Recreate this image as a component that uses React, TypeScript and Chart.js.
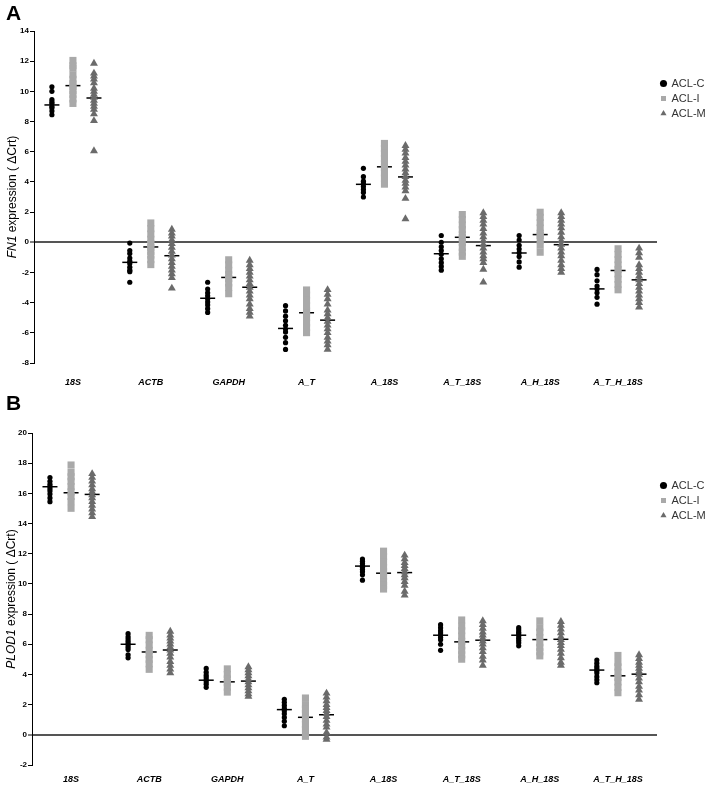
import React, { useEffect, useRef } from 'react';
import { Chart, registerables } from 'chart.js';
Chart.register(...registerables);

const FONT = "'Liberation Sans', Arial, sans-serif";

const categories = ['18S', 'ACTB', 'GAPDH', 'A_T', 'A_18S', 'A_T_18S', 'A_H_18S', 'A_T_H_18S'];
const groupNames = ['ACL-C', 'ACL-I', 'ACL-M'];

// ---------- Panel A: FN1 ----------
const fn1C = [
  [10.3, 10.0, 9.45, 9.3, 9.2, 9.0, 8.9, 8.7, 8.45],
  [-0.05, -0.55, -0.75, -1.05, -1.25, -1.4, -1.65, -1.85, -1.95, -2.65],
  [-2.65, -3.1, -3.35, -3.55, -3.75, -3.95, -4.15, -4.4, -4.65],
  [-4.2, -4.55, -4.9, -5.2, -5.5, -5.75, -5.95, -6.3, -6.65, -7.1],
  [4.9, 4.35, 4.05, 3.9, 3.7, 3.5, 3.3, 3.0],
  [0.45, 0.0, -0.3, -0.55, -0.8, -1.1, -1.35, -1.6, -1.85],
  [0.45, 0.15, -0.2, -0.45, -0.7, -0.95, -1.3, -1.65],
  [-1.8, -2.15, -2.55, -2.9, -3.1, -3.35, -3.65, -4.1],
];
const fn1I = [
  [12.05, 11.7, 11.55, 11.1, 10.8, 10.5, 10.3, 10.05, 9.8, 9.5, 9.2],
  [1.28, 0.9, 0.55, 0.2, -0.1, -0.35, -0.6, -0.85, -1.15, -1.48],
  [-1.16, -1.5, -1.85, -2.15, -2.4, -2.7, -3.0, -3.41],
  [-3.16, -3.5, -3.85, -4.2, -4.55, -4.7, -5.0, -5.35, -5.65, -5.99],
  [6.55, 6.2, 5.9, 5.55, 5.2, 4.95, 4.6, 4.25, 3.85],
  [1.84, 1.5, 1.15, 0.85, 0.5, 0.3, 0.0, -0.35, -0.65, -0.93],
  [1.99, 1.65, 1.3, 0.95, 0.6, 0.45, 0.15, -0.2, -0.66],
  [-0.43, -0.8, -1.15, -1.5, -1.8, -2.1, -2.45, -2.8, -3.15],
];
const fn1M = [
  [11.85, 11.2, 11.0, 10.8, 10.55, 10.2, 10.0, 9.8, 9.6, 9.4, 9.2, 9.0, 8.8, 8.5, 8.05, 6.05],
  [0.85, 0.6, 0.4, 0.15, -0.1, -0.35, -0.6, -0.85, -1.1, -1.35, -1.6, -1.85, -2.1, -2.35, -3.05],
  [-1.2, -1.5, -1.75, -2.0, -2.25, -2.5, -2.75, -3.0, -3.25, -3.5, -3.75, -4.1, -4.4, -4.65, -4.9],
  [-3.15, -3.45, -3.75, -4.1, -4.5, -4.75, -5.0, -5.25, -5.5, -5.75, -6.0, -6.3, -6.55, -6.8, -7.1],
  [6.4, 6.15, 5.9, 5.6, 5.35, 5.1, 4.85, 4.6, 4.35, 4.1, 3.9, 3.65, 3.4, 2.9, 1.55],
  [1.95, 1.7, 1.45, 1.2, 0.9, 0.6, 0.35, 0.1, -0.15, -0.4, -0.65, -0.9, -1.1, -1.35, -1.8, -2.65],
  [1.95, 1.7, 1.45, 1.2, 0.95, 0.65, 0.35, 0.1, -0.15, -0.4, -0.65, -0.9, -1.2, -1.5, -1.75, -2.0],
  [-0.4, -0.7, -1.0, -1.5, -1.75, -2.0, -2.25, -2.5, -2.75, -3.0, -3.25, -3.5, -3.75, -4.0, -4.3],
];
const fn1MeanC = [9.1, -1.33, -3.71, -5.71, 3.84, -0.76, -0.71, -3.09];
const fn1MeanI = [10.38, -0.31, -2.33, -4.67, 5.0, 0.33, 0.51, -1.87];
const fn1MeanM = [9.56, -0.89, -2.98, -5.16, 4.33, -0.22, -0.16, -2.49];

// ---------- Panel B: PLOD1 ----------
const plodC = [
  [17.05, 16.8, 16.6, 16.45, 16.3, 16.15, 15.95, 15.7, 15.45],
  [6.7, 6.5, 6.35, 6.2, 6.05, 5.95, 5.8, 5.65, 5.3, 5.1],
  [4.4, 4.15, 3.95, 3.8, 3.65, 3.5, 3.35, 3.15],
  [2.35, 2.15, 1.95, 1.75, 1.6, 1.4, 1.15, 0.9, 0.6],
  [11.65, 11.5, 11.35, 11.2, 11.1, 10.95, 10.8, 10.6, 10.25],
  [7.3, 7.1, 6.9, 6.75, 6.6, 6.45, 6.3, 6.0, 5.6],
  [7.1, 6.95, 6.8, 6.7, 6.55, 6.4, 6.25, 6.1, 5.9],
  [4.95, 4.75, 4.55, 4.4, 4.25, 4.1, 3.85, 3.65, 3.45],
];
const plodI = [
  [17.88, 17.4, 17.1, 16.8, 16.45, 16.1, 15.8, 15.45, 15.01],
  [6.59, 6.3, 5.95, 5.6, 5.3, 5.0, 4.7, 4.34],
  [4.37, 4.0, 3.7, 3.45, 3.15, 2.83],
  [2.44, 2.0, 1.7, 1.4, 1.05, 0.7, 0.35, -0.1],
  [12.17, 11.8, 11.45, 11.1, 10.8, 10.5, 10.15, 9.9, 9.66],
  [7.61, 7.2, 6.9, 6.55, 6.2, 5.9, 5.6, 5.3, 5.01],
  [7.55, 7.1, 6.8, 6.45, 6.1, 5.8, 5.5, 5.23],
  [5.26, 4.8, 4.5, 4.15, 3.8, 3.5, 3.15, 2.79],
];
const plodM = [
  [17.3, 17.05, 16.8, 16.55, 16.3, 16.1, 15.9, 15.7, 15.45, 15.2, 14.95, 14.7, 14.45],
  [6.85, 6.6, 6.4, 6.2, 6.0, 5.8, 5.6, 5.4, 5.15, 4.85, 4.6, 4.35, 4.1],
  [4.5, 4.3, 4.1, 3.9, 3.7, 3.5, 3.3, 3.1, 2.9, 2.7, 2.55],
  [2.75, 2.5, 2.25, 2.0, 1.8, 1.6, 1.4, 1.2, 0.95, 0.7, 0.5, 0.15, -0.15, -0.3],
  [11.9, 11.65, 11.4, 11.2, 11.0, 10.8, 10.6, 10.4, 10.15, 9.9, 9.5, 9.25],
  [7.55, 7.3, 7.05, 6.8, 6.6, 6.4, 6.2, 6.0, 5.75, 5.5, 5.2, 4.95, 4.6],
  [7.5, 7.25, 7.0, 6.75, 6.5, 6.3, 6.1, 5.9, 5.65, 5.4, 5.1, 4.8, 4.6],
  [5.3, 5.05, 4.8, 4.6, 4.4, 4.2, 4.0, 3.75, 3.5, 3.2, 2.95, 2.65, 2.35],
];
const plodMeanC = [16.44, 6.0, 3.62, 1.67, 11.18, 6.6, 6.6, 4.29];
const plodMeanI = [16.04, 5.49, 3.51, 1.16, 10.71, 6.16, 6.31, 3.91];
const plodMeanM = [15.93, 5.62, 3.56, 1.33, 10.75, 6.27, 6.33, 4.02];

const offsets = [-0.27, 0, 0.27];
const markerStyles = [
  { pointStyle: 'circle', radius: 2.6, color: '#000000' },
  { pointStyle: 'rect', radius: 5, color: '#a9a9a9' },
  { pointStyle: 'triangle', radius: 4.6, color: '#6b6b6b' },
];

type PanelProps = {
  letter: string;
  gene: string;
  top: number;
  height: number;
  yMin: number;
  yMax: number;
  groups: number[][][];
  means: number[][];
  areaTop: number;
  areaBottom: number;
  axisWidth: number;
  tickPad: number;
  titleX: number;
};

function Panel(p: PanelProps) {
  const ref = useRef<HTMLCanvasElement>(null);
  useEffect(() => {
    if (!ref.current) return;
    const datasets: any[] = p.groups.map((g, k) => ({
      type: 'scatter',
      label: groupNames[k],
      data: g.flatMap((vals, i) => vals.map((v) => ({ x: i + offsets[k], y: v }))),
      pointStyle: markerStyles[k].pointStyle,
      pointRadius: markerStyles[k].radius,
      backgroundColor: markerStyles[k].color,
      borderColor: markerStyles[k].color,
      borderWidth: 0,
      showLine: false,
    }));
    datasets.push({
      type: 'scatter',
      label: 'mean',
      data: p.means.flatMap((arr, k) => arr.map((v, i) => ({ x: i + offsets[k], y: v }))),
      pointStyle: 'line',
      pointRadius: 7.5,
      borderColor: '#000',
      backgroundColor: '#000',
      borderWidth: 1.5,
      showLine: false,
    });
    const chart = new Chart(ref.current, {
      type: 'scatter',
      data: { datasets },
      options: {
        animation: false,
        responsive: false,
        events: [],
        layout: { padding: { top: p.areaTop, left: 0, right: 0, bottom: 0 } },
        plugins: {
          tooltip: { enabled: false },
          legend: {
            position: 'right',
            align: 'start',
            maxWidth: 49,
            title: { display: true, text: ' ', padding: { top: 31, bottom: 0 }, font: { size: 10 } },
            labels: {
              filter: (item: any) => item.datasetIndex < 3,
              usePointStyle: true,
              boxWidth: 5,
              boxHeight: 5,
              padding: 4,
              color: '#333',
              font: { family: FONT, size: 11 },
            },
          },
        },
        scales: {
          x: {
            type: 'linear',
            min: -0.5,
            max: 7.5,
            grid: { display: false },
            border: { display: false },
            afterBuildTicks: (s: any) => {
              s.ticks = categories.map((_, i) => ({ value: i }));
            },
            afterFit: (s: any) => {
              s.height = p.height - p.areaBottom;
            },
            ticks: {
              autoSkip: false,
              maxRotation: 0,
              padding: p.tickPad,
              color: '#000',
              font: { family: FONT, size: 9, weight: 'bold', style: 'italic' },
              callback: (v: any) => categories[v] ?? '',
            },
          },
          y: {
            type: 'linear',
            min: p.yMin,
            max: p.yMax,
            afterFit: (s: any) => {
              s.width = p.axisWidth;
            },
            ticks: {
              stepSize: 2,
              padding: 1,
              color: '#000',
              font: { family: FONT, size: 8, weight: 'bold' },
            },
            border: { display: true, color: '#000', width: 1 },
            grid: {
              color: (c: any) => (c.tick && c.tick.value === 0 ? '#555' : 'rgba(0,0,0,0)'),
              lineWidth: (c: any) => (c.tick && c.tick.value === 0 ? 2 : 1),
              tickColor: '#000',
              tickWidth: 1,
              tickLength: 4,
              drawTicks: true,
            },
          },
        },
      } as any,
    });
    return () => chart.destroy();
  }, []);

  const mid = (p.areaTop + p.areaBottom) / 2;
  return (
    <div style={{ position: 'absolute', left: 0, top: p.top, width: 706, height: p.height }}>
      <canvas ref={ref} width={706} height={p.height} style={{ display: 'block' }} />
      <div
        style={{
          position: 'absolute',
          left: 6,
          top: 2,
          font: `bold 21px ${FONT}`,
          lineHeight: 1,
          color: '#000',
        }}
      >
        {p.letter}
      </div>
      <div
        style={{
          position: 'absolute',
          left: p.titleX,
          top: mid,
          transform: 'translate(-50%, -50%) rotate(-90deg)',
          whiteSpace: 'nowrap',
          font: `12px ${FONT}`,
          color: '#000',
        }}
      >
        <i>{p.gene}</i> expression ( ΔCrt)
      </div>
    </div>
  );
}

export default function App() {
  return (
    <div style={{ position: 'absolute', left: 0, top: 0, width: 706, height: 785, background: '#fff' }}>
      <Panel
        letter="A"
        gene="FN1"
        top={0}
        height={390}
        yMin={-8}
        yMax={14}
        groups={[fn1C, fn1I, fn1M]}
        means={[fn1MeanC, fn1MeanI, fn1MeanM]}
        areaTop={31}
        areaBottom={363}
        axisWidth={34}
        tickPad={6}
        titleX={12}
      />
      <Panel
        letter="B"
        gene="PLOD1"
        top={390}
        height={395}
        yMin={-2}
        yMax={20}
        groups={[plodC, plodI, plodM]}
        means={[plodMeanC, plodMeanI, plodMeanM]}
        areaTop={43}
        areaBottom={375}
        axisWidth={32}
        tickPad={1}
        titleX={11}
      />
    </div>
  );
}
